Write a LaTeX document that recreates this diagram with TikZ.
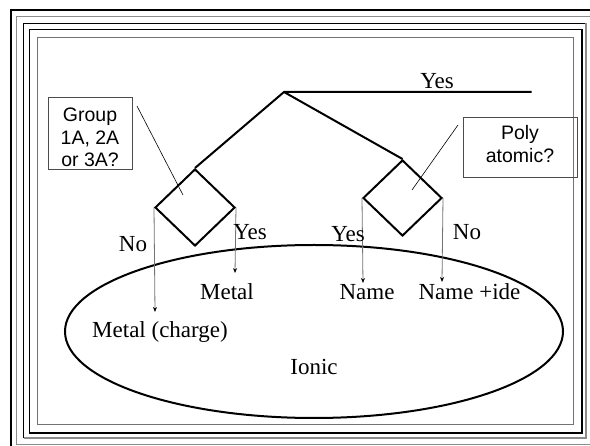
\documentclass[tikz,border=0pt]{standalone}
\usepackage{fontspec}
\setmainfont{Liberation Serif}
\newfontfamily\boxfont{Liberation Sans}
\usetikzlibrary{shapes.geometric,arrows.meta}

\begin{document}
\begin{tikzpicture}[x=1pt,y=-1pt,
  heavy/.style={line width=2pt, line join=miter},
  lbl/.style={anchor=base, inner sep=0pt, font=\fontsize{23}{27}\selectfont},
  qtext/.style={anchor=base, inner sep=0pt, font=\boxfont\fontsize{19.5}{22}\selectfont},
  qbox/.style={draw=black!70, line width=0.9pt, inner sep=0pt},
  decision/.style={diamond, draw, line width=2pt, inner sep=0pt, aspect=1.04},
  pointer/.style={line width=0.6pt},
  branch/.style={draw=black!55, line width=0.8pt,
    -{Stealth[length=5pt,width=4pt,black]}}
]
\useasboundingbox (0,0) rectangle (590,446);
\fill[white] (0,0) rectangle (590,446);

% nested frame lines
\draw[line width=2pt] (10.5,10.5) rectangle (605,460);
\draw[black!45, line width=1.4pt] (16.5,16.5) rectangle (605,444.5);
\draw[black, line width=1pt] (586,23.5) -- (23.5,23.5) -- (23.5,438);
\draw[black!45, line width=1.4pt] (23.5,438) -- (586,438) -- (586,23.5);
\draw[black, line width=1.2pt] (29.5,29.5) rectangle (582,433);
\draw[black!55, line width=1.6pt] (37.5,37.5) rectangle (573.5,424.5);

% outer set
\node[ellipse, draw, line width=2pt, minimum width=498pt, minimum height=173pt,
      inner sep=0pt] (ionic) at (314,331.5) {};
\node[lbl] (ionictxt) at (314,375) {Ionic};

% decision tree
\coordinate (apex) at (284,92);
\coordinate (yesend) at (531.5,92);
\node[decision, minimum width=80pt, minimum height=77pt] (dl) at (195,207.5) {};
\node[decision, minimum width=79pt, minimum height=76pt] (dr) at (402.5,198) {};

\draw[heavy] (yesend) -- (apex) -- (dl.north);
\draw[heavy] (apex) -- (dr.north);
\node[lbl] (topyes) at (437,89) {Yes};

% questions
\node[qbox, minimum width=84pt, minimum height=72pt] (qgroup) at (90,133) {};
\node[qtext] (g1) at (90,122) {Group};
\node[qtext] (g2) at (90,145) {1A, 2A};
\node[qtext] (g3) at (90,167) {or 3A?};
\coordinate (pg1) at (137,106);
\coordinate (pg2) at (183,195);
\draw[pointer] (pg1) -- (pg2);

\node[qbox, minimum width=114pt, minimum height=60pt] (qpoly) at (520,147) {};
\node[qtext] (p1) at (520,140) {Poly};
\node[qtext] (p2) at (520,163) {atomic?};
\coordinate (pp1) at (458,125);
\coordinate (pp2) at (412,190);
\draw[pointer] (pp1) -- (pp2);

% branches
\coordinate (t1) at (155,312);
\coordinate (t2) at (235,273);
\coordinate (t3) at (363,283);
\coordinate (t4) at (442,282);
\draw[branch] (dl.west) -- (t1);
\draw[branch] (dl.east) -- (t2);
\draw[branch] (dr.west) -- (t3);
\draw[branch] (dr.east) -- (t4);

\node[lbl] (no1) at (133,252) {No};
\node[lbl] (yes1) at (250,240) {Yes};
\node[lbl] (yes2) at (348,242) {Yes};
\node[lbl] (no2) at (467,240) {No};

% results
\node[lbl] (metal) at (227,300) {Metal};
\node[lbl] (metalch) at (160,338) {Metal (charge)};
\node[lbl] (name) at (367,300) {Name};
\node[lbl] (nameide) at (469.5,300) {Name +ide};
\end{tikzpicture}
\end{document}
